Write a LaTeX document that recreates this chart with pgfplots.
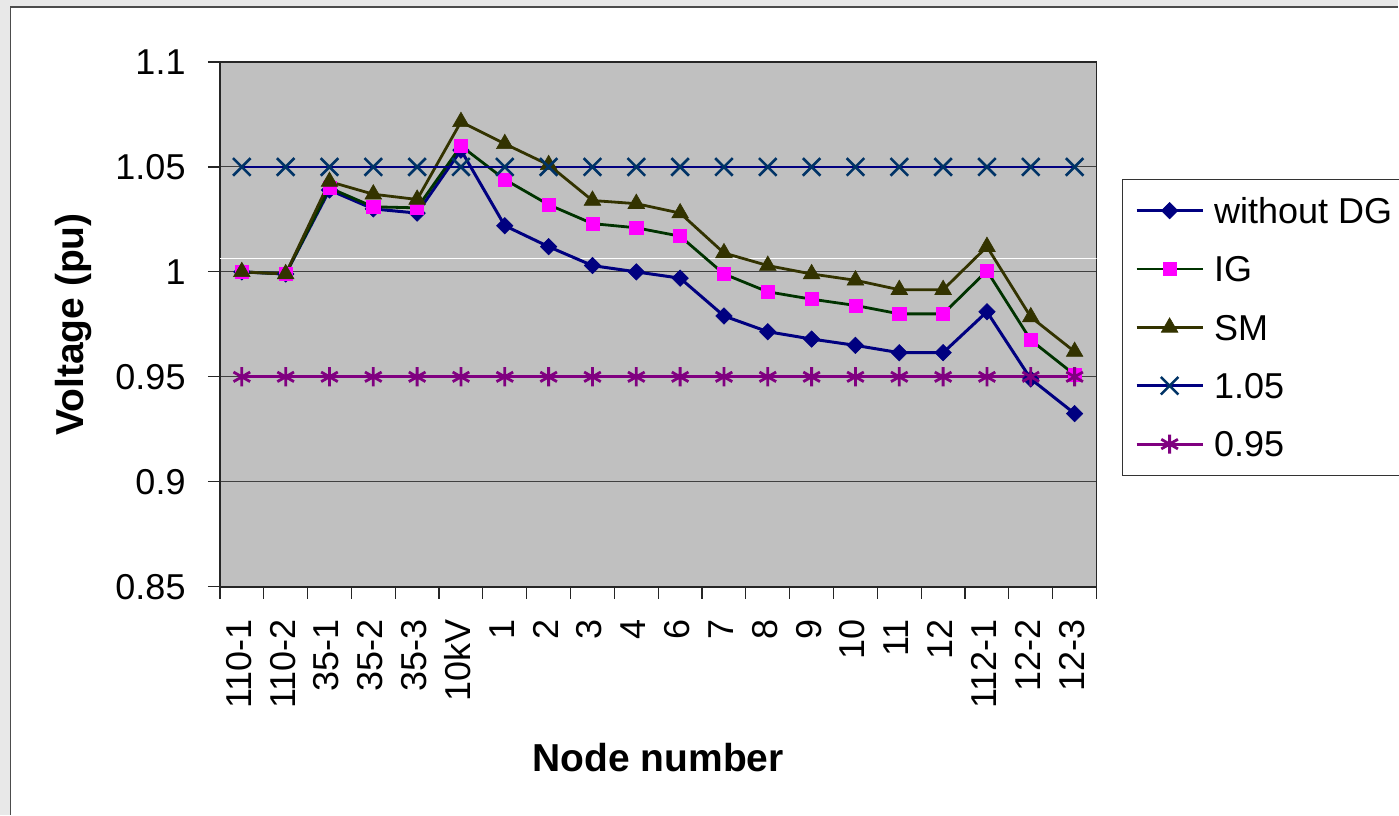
\documentclass[border=0pt]{standalone}
\usepackage{fontspec}
\setmainfont{Liberation Sans}
\usepackage{pgfplots}
\pgfplotsset{compat=1.18}
\usetikzlibrary{plotmarks}

\definecolor{plotbg}{RGB}{192,192,192}
\definecolor{nodg}{RGB}{0,0,128}
\definecolor{igline}{RGB}{0,51,0}
\definecolor{igmark}{RGB}{255,0,255}
\definecolor{smline}{RGB}{51,51,0}
\definecolor{hilim}{RGB}{0,0,128}
\definecolor{himark}{RGB}{0,51,102}
\definecolor{lolim}{RGB}{128,0,128}
\definecolor{framebg}{RGB}{232,232,232}

\begin{document}
\begin{tikzpicture}
% page frame
\fill[framebg] (0,0) rectangle (699.5bp,407.5bp);
\fill[white] (5.25bp,0) rectangle (699.5bp,404bp);
\draw[black!70, line width=0.6bp] (5.25bp,0) -- (5.25bp,404bp) -- (699.5bp,404bp);
\path[use as bounding box] (0,0) rectangle (699.5bp,407.5bp);

\begin{axis}[
  at={(110bp,114bp)}, anchor=south west,
  scale only axis, width=438.5bp, height=262.5bp,
  xmin=-0.5, xmax=19.5, ymin=0.85, ymax=1.1,
  axis background/.style={fill=plotbg},
  axis line style={draw=black!85, line width=0.8bp},
  xtick={0,...,19},
  xticklabels={110-1,110-2,35-1,35-2,35-3,10kV,1,2,3,4,6,7,8,9,10,11,12,112-1,12-2,12-3},
  minor xtick={-0.5,0.5,...,19.5},
  ytick={0.85,0.9,0.95,1,1.05,1.1},
  yticklabels={0.85,0.9,0.95,1,1.05,1.1},
  minor ytick={0.85,0.9,0.95,1,1.05,1.1},
  major tick length=0pt, minor tick length=6bp,
  tick align=outside, tick pos=left,
  tick style={black!85, line width=0.6bp},
  ymajorgrids,
  major grid style={draw=black!75, line width=0.5bp},
  tick label style={font=\fontsize{18bp}{21.6bp}\selectfont},
  yticklabel style={inner sep=0pt, xshift=-17bp},
  xticklabel style={inner sep=0pt, yshift=-16bp, xshift=-1.5bp, rotate=90, anchor=east},
  xlabel={Node number},
  ylabel={Voltage (pu)},
  label style={font=\fontsize{19.5bp}{23bp}\selectfont\bfseries},
  xlabel style={at={(axis description cs:0.5,-0.3518)}, anchor=base},
  ylabel style={at={(axis description cs:-0.1559,0.5)}, anchor=base},
  legend style={at={(1.0285,0.7771)}, anchor=north west,
    draw=black!80, line width=0.6bp, fill=white,
    font=\fontsize{18bp}{21.6bp}\selectfont,
    inner xsep=6.5bp, inner ysep=1bp,
    row sep=0pt, column sep=3bp,
    nodes={text height=19bp, text depth=6.2bp}},
  legend cell align=left,
  legend image code/.code={\draw[mark repeat=2,mark phase=2,#1]
    plot coordinates {(0bp,0bp) (16.5bp,0bp) (33bp,0bp)};},
]
% rendering streak across the plot area
\addplot[white, line width=0.6bp, forget plot] coordinates {(-0.5,1.0062) (19.5,1.0062)};

\addplot[nodg, line width=1.5bp, mark=square*, mark size=2.9bp,
  mark options={rotate=45, fill=nodg, draw=nodg, line width=0.3bp}]
  coordinates {(0,1.000) (1,0.999) (2,1.039) (3,1.030) (4,1.028) (5,1.058)
    (6,1.022) (7,1.012) (8,1.003) (9,1.000) (10,0.997) (11,0.979) (12,0.9715)
    (13,0.968) (14,0.965) (15,0.9615) (16,0.9615) (17,0.981) (18,0.949) (19,0.9325)};
\addlegendentry{without DG}

\addplot[igline, line width=1.4bp, mark=square*, mark size=3.3bp,
  mark options={fill=igmark, draw=igmark, line width=0.3bp}]
  coordinates {(0,1.000) (1,0.999) (2,1.040) (3,1.031) (4,1.0305) (5,1.060)
    (6,1.044) (7,1.032) (8,1.023) (9,1.021) (10,1.017) (11,0.999) (12,0.9905)
    (13,0.987) (14,0.984) (15,0.980) (16,0.980) (17,1.0005) (18,0.9675) (19,0.951)};
\addlegendentry{IG}

\addplot[smline, line width=1.4bp, mark=triangle*, mark size=4.8bp,
  mark options={fill=smline, draw=smline, line width=0.3bp}]
  coordinates {(0,1.000) (1,0.999) (2,1.043) (3,1.037) (4,1.0345) (5,1.0715)
    (6,1.061) (7,1.051) (8,1.034) (9,1.0325) (10,1.028) (11,1.009) (12,1.003)
    (13,0.999) (14,0.996) (15,0.9915) (16,0.9915) (17,1.012) (18,0.9785) (19,0.962)};
\addlegendentry{SM}

\addplot[hilim, line width=1.4bp, mark=x, mark size=6.2bp,
  mark options={draw=himark, line width=1.3bp}]
  coordinates {(0,1.05) (1,1.05) (2,1.05) (3,1.05) (4,1.05) (5,1.05) (6,1.05)
    (7,1.05) (8,1.05) (9,1.05) (10,1.05) (11,1.05) (12,1.05) (13,1.05) (14,1.05)
    (15,1.05) (16,1.05) (17,1.05) (18,1.05) (19,1.05)};
\addlegendentry{1.05}

\addplot[lolim, line width=1.4bp, mark=asterisk, mark size=4.8bp,
  mark options={draw=lolim, line width=1.4bp}]
  coordinates {(0,0.95) (1,0.95) (2,0.95) (3,0.95) (4,0.95) (5,0.95) (6,0.95)
    (7,0.95) (8,0.95) (9,0.95) (10,0.95) (11,0.95) (12,0.95) (13,0.95) (14,0.95)
    (15,0.95) (16,0.95) (17,0.95) (18,0.95) (19,0.95)};
\addlegendentry{0.95}
\end{axis}
\end{tikzpicture}
\end{document}
